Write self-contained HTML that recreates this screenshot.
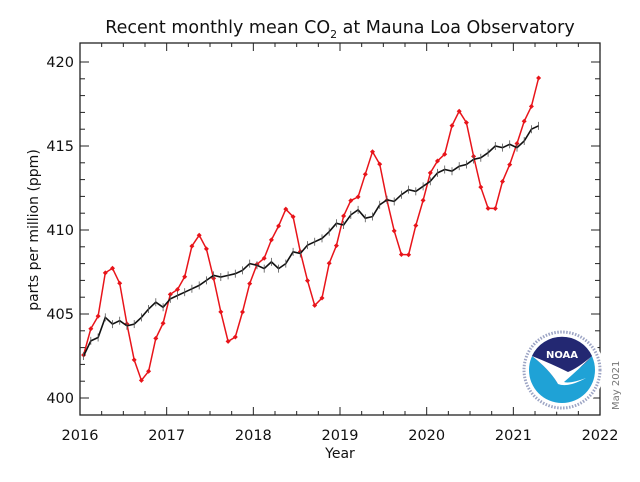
<!DOCTYPE html>
<html><head><meta charset="utf-8"><style>
body{margin:0;background:#fff;width:640px;height:478px;overflow:hidden;font-family:"DejaVu Sans",sans-serif}
</style></head><body>
<svg id="s" width="640" height="478" xmlns="http://www.w3.org/2000/svg" font-family="DejaVu Sans, sans-serif">
<rect width="640" height="478" fill="#fff"/>
<text x="340" y="33" font-size="17.5" text-anchor="middle" fill="#111">Recent monthly mean CO<tspan font-size="11" dy="5">2</tspan><tspan dy="-5"> at Mauna Loa Observatory</tspan></text>
<text x="340" y="458" font-size="14" text-anchor="middle" fill="#111">Year</text>
<text transform="translate(38,230) rotate(-90)" font-size="14" text-anchor="middle" fill="#111">parts per million (ppm)</text>
<text transform="translate(619,410) rotate(-90)" font-size="10" fill="#777">May 2021</text>
<g id="g"></g>
<g transform="translate(562,370)">
<circle r="42" fill="#fff"/>
<circle r="33" fill="#1fa2d6"/>
<path d="M-30,-14 A33,33 0 0 1 30,-14 Q20,-2 8,4 Q-5,10 -4,14 Q-12,0 -30,-14Z" fill="#232872"/>
<path d="M-30,-14 Q-12,0 -4,14 Q6,18 24,8 Q8,14 2,12 Q16,0 30,-14 Q16,-2 6,2 Q-10,-6 -30,-14Z" fill="#fff"/>
<text x="0" y="-12" font-size="10" font-weight="bold" fill="#fff" text-anchor="middle">NOAA</text>
<circle r="38" fill="none" stroke="#3a4a8a" stroke-width="3" stroke-dasharray="1.5 1.5" opacity="0.5"/>
</g>
</svg>
<script>
const X=y=>80+(y-2016)*86.67, Y=v=>398-(v-400)*16.8;
let h='';
const L=80,R=600,T=43,B=415;
h+=`<rect x="${L}" y="${T}" width="${R-L}" height="${B-T}" fill="none" stroke="#222" stroke-width="1.3"/>`;
for(let q=0;q<=24;q++){let x=X(2016+q/4),len=q%4?4:8;
h+=`<line x1="${x}" y1="${B}" x2="${x}" y2="${B-len}" stroke="#222"/><line x1="${x}" y1="${T}" x2="${x}" y2="${T+len}" stroke="#222"/>`;
if(q%4==0)h+=`<text x="${x}" y="440" font-size="14.5" text-anchor="middle" fill="#111">${2016+q/4}</text>`;}
for(let v=400;v<=420;v++){let y=Y(v),len=v%5?5:9;
h+=`<line x1="${L}" y1="${y}" x2="${L+len}" y2="${y}" stroke="#222"/><line x1="${R}" y1="${y}" x2="${R-len}" y2="${y}" stroke="#222"/>`;
if(v%5==0)h+=`<text x="${L-6}" y="${y+5}" font-size="14.5" text-anchor="end" fill="#111">${v}</text>`;}
const m=[402.56,404.12,404.87,407.45,407.72,406.83,404.41,402.27,401.05,401.59,403.55,404.45,
406.17,406.46,407.22,409.04,409.69,408.88,407.12,405.13,403.37,403.63,405.12,406.81,
407.96,408.32,409.41,410.24,411.24,410.79,408.71,406.99,405.51,405.95,408.02,409.07,
410.83,411.75,411.97,413.32,414.66,413.92,411.77,409.95,408.54,408.53,410.27,411.76,
413.40,414.11,414.51,416.21,417.07,416.39,414.38,412.55,411.29,411.28,412.89,413.89,
415.15,416.47,417.36,419.05];
const d=[402.5,403.4,403.6,404.8,404.4,404.6,404.3,404.4,404.8,405.3,405.7,405.4,
405.9,406.1,406.3,406.5,406.7,407.0,407.3,407.2,407.3,407.4,407.6,408.0,
407.9,407.7,408.1,407.7,408.0,408.7,408.6,409.1,409.3,409.5,409.9,410.4,
410.3,410.9,411.2,410.7,410.8,411.5,411.8,411.7,412.1,412.4,412.3,412.6,
412.9,413.4,413.6,413.5,413.8,413.9,414.2,414.3,414.6,415.0,414.9,415.1,
414.9,415.3,416.0,416.2];
const px=i=>X(2016+(i+0.5)/12).toFixed(1);
h+=`<polyline fill="none" stroke="#e8141a" stroke-width="1.5" points="${m.map((v,i)=>px(i)+','+Y(v).toFixed(1)).join(' ')}"/>`;
m.forEach((v,i)=>h+=`<path d="M${px(i)},${Y(v)-2.5} l2.5,2.5 l-2.5,2.5 l-2.5,-2.5z" fill="#e8141a"/>`);
h+=`<polyline fill="none" stroke="#111" stroke-width="1.6" points="${d.map((v,i)=>px(i)+','+Y(v).toFixed(1)).join(' ')}"/>`;
d.forEach((v,i)=>h+=`<line x1="${px(i)}" y1="${Y(v)-4}" x2="${px(i)}" y2="${Y(v)+4}" stroke="#555" stroke-width="0.8"/>`);
document.getElementById('g').innerHTML=h;
</script>
</body></html>
